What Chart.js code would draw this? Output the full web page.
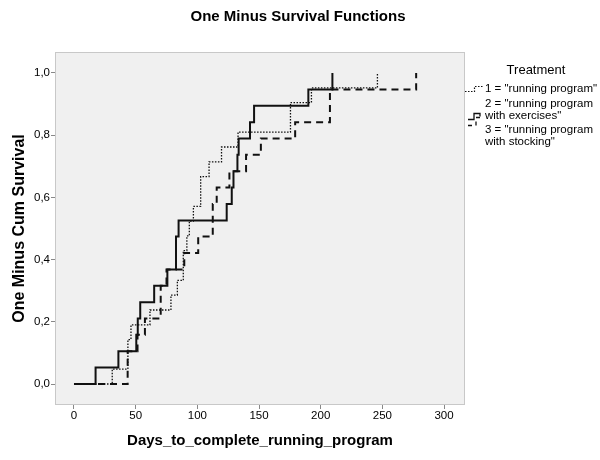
<!DOCTYPE html>
<html>
<head>
<meta charset="utf-8">
<title>One Minus Survival Functions</title>
<script src="https://cdn.jsdelivr.net/npm/chart.js@4.4.1/dist/chart.umd.min.js"></script>
<style>
  html, body { margin: 0; padding: 0; background: #fff; }
  #wrap { width: 600px; height: 460px; }
</style>
</head>
<body>
<div id="wrap"><canvas id="chart" width="600" height="460"></canvas></div>
<script>
// Kaplan-Meier steps: day of each event and the level after it
const runDays   = [0, 31, 43.7, 46.2, 61.6, 78.6, 83.8, 88.6, 91.5, 93.5, 96.8, 102.7, 109.5, 119.6, 133, 175.5, 192.5, 246];
const runValues = [0, 0.048, 0.143, 0.190, 0.238, 0.286, 0.333, 0.429, 0.476, 0.524, 0.571, 0.667, 0.714, 0.762, 0.810, 0.905, 0.952, 1.0];

const exDays   = [0, 17.5, 36, 50.5, 51.7, 53.7, 65, 75.7, 82.7, 84.8, 123.8, 127.9, 129.3, 132.5, 133.5, 142.7, 146, 190, 209.5];
const exValues = [0, 0.053, 0.105, 0.158, 0.211, 0.263, 0.316, 0.368, 0.474, 0.526, 0.579, 0.632, 0.684, 0.737, 0.789, 0.842, 0.895, 0.947, 1.0];

const stDays   = [0, 43.5, 51.5, 57.5, 70.3, 75, 89.4, 100.7, 112.5, 115.7, 126, 139.5, 151.5, 179.3, 207.5, 277.4];
const stValues = [0, 0.105, 0.158, 0.211, 0.316, 0.368, 0.421, 0.474, 0.579, 0.632, 0.684, 0.737, 0.789, 0.842, 0.947, 1.0];

const xTicks = [0, 50, 100, 150, 200, 250, 300];
const yTicks = [0, 0.2, 0.4, 0.6, 0.8, 1.0];

const chartTitle = 'One Minus Survival Functions';
const legendTitle = 'Treatment';
const seriesNames = [
  ['1 = "running program"'],
  ['2 = "running program', 'with exercises"'],
  ['3 = "running program', 'with stocking"']
];

const FONT = '"Liberation Sans", Arial, sans-serif';
const INK = '#111';

function toPoints(days, values) {
  return days.map((d, i) => ({ x: d, y: values[i] }));
}

// plot background, light frame, title and the SPSS-style legend
const frame = {
  id: 'frame',
  beforeDraw(chart) {
    const { ctx, chartArea: a } = chart;
    ctx.save();
    ctx.fillStyle = '#fff';
    ctx.fillRect(0, 0, chart.width, chart.height);
    ctx.fillStyle = '#f0f0f0';
    ctx.fillRect(a.left, a.top, a.right - a.left, a.bottom - a.top);
    ctx.restore();
  },
  afterDraw(chart) {
    const { ctx, chartArea: a } = chart;
    ctx.save();
    ctx.strokeStyle = '#c8c8c8';
    ctx.lineWidth = 1;
    ctx.strokeRect(a.left + 0.5, a.top + 0.5, a.right - a.left - 1, a.bottom - a.top - 1);

    ctx.fillStyle = '#000';
    ctx.font = 'bold 15px ' + FONT;
    ctx.textAlign = 'center';
    ctx.textBaseline = 'middle';
    ctx.fillText(chartTitle, 298, 17);

    ctx.font = '13px ' + FONT;
    ctx.fillText(legendTitle, 536, 70);
    ctx.font = '11.5px ' + FONT;
    ctx.textAlign = 'left';
    const rows = [[89], [104, 116], [130, 142]];
    // little step samples: x start, low y, high y, width
    const samples = [[465, 91.5, 86.5, 19], [468, 119.5, 113.5, 12], [468, 125.5, 117.5, 16]];
    chart.data.datasets.forEach((ds, i) => {
      seriesNames[i].forEach((line, j) => ctx.fillText(line, 485, rows[i][j]));
      const [sx, yLow, yHigh, w] = samples[i];
      ctx.beginPath();
      ctx.strokeStyle = ds.borderColor;
      ctx.lineWidth = i === 0 ? 1.2 : 1.3;
      ctx.setLineDash(i === 2 ? [4, 4] : (ds.borderDash || []));
      ctx.moveTo(sx, yLow);
      ctx.lineTo(sx + w / 2, yLow);
      ctx.lineTo(sx + w / 2, yHigh);
      ctx.lineTo(sx + w, yHigh);
      if (i === 1) ctx.lineTo(sx + w, yHigh + 3);
      ctx.stroke();
    });
    ctx.restore();
  }
};

new Chart(document.getElementById('chart'), {
  type: 'line',
  data: {
    datasets: [{
      label: seriesNames[0].join(' '),
      data: toPoints(runDays, runValues),
      borderColor: INK,
      borderWidth: 1.3,
      borderDash: [1.5, 1.5],
      stepped: 'before'
    }, {
      label: seriesNames[1].join(' '),
      data: toPoints(exDays, exValues),
      borderColor: INK,
      borderWidth: 2,
      stepped: 'before'
    }, {
      label: seriesNames[2].join(' '),
      data: toPoints(stDays, stValues),
      borderColor: INK,
      borderWidth: 2,
      borderDash: [7, 5],
      stepped: 'before'
    }]
  },
  options: {
    responsive: false,
    animation: false,
    layout: { padding: { top: 52, right: 135, left: 0, bottom: 0 } },
    elements: { point: { radius: 0 }, line: { tension: 0, fill: false } },
    plugins: {
      legend: { display: false },
      title: { display: false },
      tooltip: { enabled: false }
    },
    scales: {
      x: {
        type: 'linear',
        min: -15.4,
        max: 317,
        afterBuildTicks: s => { s.ticks = xTicks.map(v => ({ value: v })); },
        afterFit: s => { s.height = 55; },
        grid: { drawOnChartArea: false, drawTicks: true, tickLength: 4, color: '#888' },
        border: { display: false },
        ticks: { color: '#000', font: { family: FONT, size: 11.5 }, padding: 0, maxRotation: 0 },
        title: {
          display: true,
          text: 'Days_to_complete_running_program',
          color: '#000',
          font: { family: FONT, size: 15, weight: 'bold' },
          padding: { top: 0, bottom: 10 }
        }
      },
      y: {
        type: 'linear',
        min: -0.0675,
        max: 1.0675,
        afterBuildTicks: s => { s.ticks = yTicks.map(v => ({ value: v })); },
        afterFit: s => { s.width = 55; },
        grid: { drawOnChartArea: false, drawTicks: true, tickLength: 4, color: '#888' },
        border: { display: false },
        ticks: {
          color: '#000',
          font: { family: FONT, size: 11.5 },
          padding: 1,
          callback: v => v.toFixed(1).replace('.', ',')
        },
        title: {
          display: true,
          text: 'One Minus Cum Survival',
          color: '#000',
          font: { family: FONT, size: 16, weight: 'bold' },
          padding: { top: 10, bottom: 0 }
        }
      }
    }
  },
  plugins: [frame]
});
</script>
</body>
</html>
